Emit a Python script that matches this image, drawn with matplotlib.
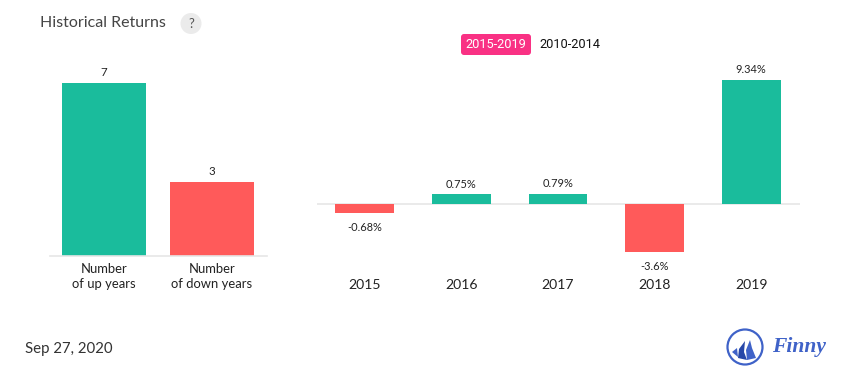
import matplotlib
matplotlib.use("Agg")
import matplotlib.pyplot as plt
from matplotlib.patches import FancyBboxPatch, Circle, Polygon

W, H = 855, 382
GREEN = "#1abc9c"
RED = "#ff5a5a"
PINK = "#f93184"
GRID = "#e6e6e6"
DARK = "#222222"

count_labels = ["Number\nof up years", "Number\nof down years"]
count_values = [7, 3]
years = ["2015", "2016", "2017", "2018", "2019"]
returns = [-0.68, 0.75, 0.79, -3.6, 9.34]
return_labels = ["-0.68%", "0.75%", "0.79%", "-3.6%", "9.34%"]

plt.rcParams["font.family"] = ["Lato", "DejaVu Sans"]
fig = plt.figure(figsize=(W / 100, H / 100), dpi=100, facecolor="white")


def px(size):
    return size * 0.72


def axes_px(x0, y0, x1, y1):
    ax = fig.add_axes([x0 / W, 1 - y1 / H, (x1 - x0) / W, (y1 - y0) / H])
    ax.patch.set_alpha(0)
    for s in ax.spines.values():
        s.set_visible(False)
    ax.set_yticks([])
    ax.tick_params(length=0)
    return ax


# Left chart: baseline near y=255.5, value 7 reaches y=83
ax1 = axes_px(50, 83, 267, 255.6)
ax1.bar([0, 1], count_values, width=84 / 108, color=[GREEN, RED])
ax1.set_xlim(-0.5, 1.509)
ax1.set_ylim(0, 7)
ax1.axhline(0, color=GRID, lw=1.2, clip_on=False)
ax1.set_xticks([0, 1])
ax1.set_xticklabels(count_labels, fontsize=px(13), color=DARK, linespacing=1.35)
ax1.tick_params(axis="x", pad=5)
for i, v in enumerate(count_values):
    ax1.annotate(str(v), (i, v), xytext=(0, 3.5), textcoords="offset points",
                 ha="center", va="bottom", fontsize=px(11.5), color=DARK)

# Right chart: zero line near y=204.5
ax2 = axes_px(316.5, 80, 799.5, 252.4)
colors = [GREEN if r >= 0 else RED for r in returns]
ax2.bar(range(5), returns, width=59 / 96.75, color=colors)
ax2.set_xlim(-0.5, 4.5)
ax2.set_ylim(-3.6, 9.34)
ax2.axhline(0, color=GRID, lw=1.2, zorder=0)
ax2.set_xticks(range(5))
ax2.set_xticklabels(years, fontsize=px(14), color=DARK)
ax2.tick_params(axis="x", pad=19.5)
for i, (r, lab) in enumerate(zip(returns, return_labels)):
    off = 3.5 if r >= 0 else -6
    ax2.annotate(lab, (i, r), xytext=(0, off), textcoords="offset points",
                 ha="center", va="bottom" if r >= 0 else "top",
                 fontsize=px(11), color=DARK)

# Overlay in pixel coordinates for header, toggle, date, logo
ov = fig.add_axes([0, 0, 1, 1], zorder=5)
ov.set_xlim(0, W)
ov.set_ylim(H, 0)
ov.axis("off")
ov.patch.set_alpha(0)

ov.text(40, 23, "Historical Returns", fontsize=px(16), color="#444444", va="center", ha="left")
ov.add_patch(Circle((191, 23.5), 10.5, fc="#ebebeb", ec="none"))
ov.text(191, 24, "?", fontsize=px(13), color="#555555", ha="center", va="center")

ov.add_patch(FancyBboxPatch((461, 34), 70, 21, boxstyle="round,pad=0,rounding_size=3",
                            fc=PINK, ec="none"))
ov.text(496, 45, "2015-2019", fontsize=px(12.8), color="white", ha="center", va="center",
        family=["Roboto", "DejaVu Sans"])
ov.text(570, 45, "2010-2014", fontsize=px(12.8), color="#111111", ha="center", va="center",
        family=["Roboto", "DejaVu Sans"])

ov.text(25, 349, "Sep 27, 2020", fontsize=px(15), color="#333333", va="center", ha="left")

BLUE = "#3f62c8"
ov.add_patch(Circle((745, 347), 17.5, fc="white", ec=BLUE, lw=1.6))
ov.add_patch(Polygon([(732, 352), (737, 348), (738, 357)], fc=BLUE, ec="none"))
ov.add_patch(Polygon([(738, 358), (739, 349), (745, 341), (744, 352), (747, 360)], fc="#2747a8", ec="none"))
ov.add_patch(Polygon([(747, 360), (746, 350), (750, 340), (752, 348), (756, 358)], fc=BLUE, ec="none"))
ov.text(772, 347, "Finny", fontsize=px(21.5), color=BLUE, ha="left", va="center",
        family=["Liberation Serif"], style="italic", weight="bold")

fig.savefig("out.png", dpi=100, facecolor="white")
